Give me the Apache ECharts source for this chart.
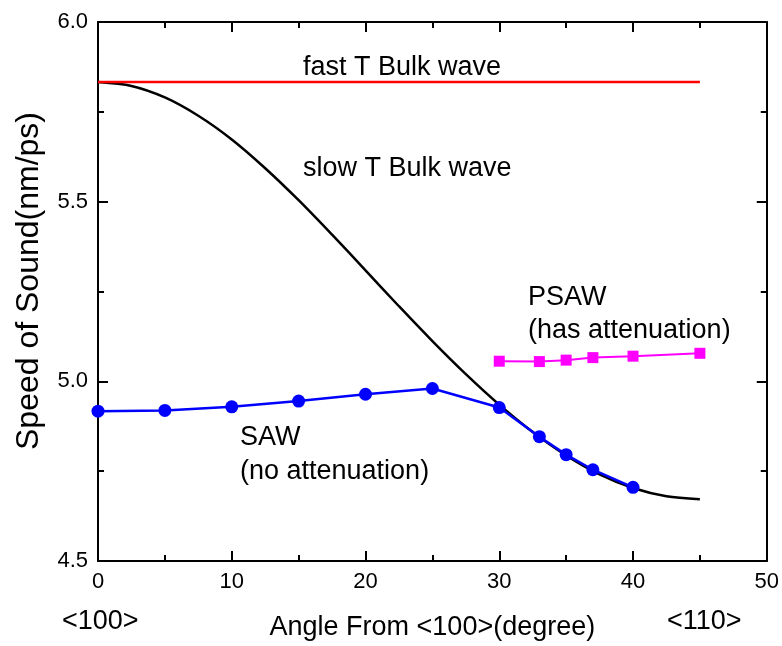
<!DOCTYPE html>
<html>
<head>
<meta charset="utf-8">
<script src="https://cdn.jsdelivr.net/npm/echarts@6/dist/echarts.min.js"></script>
<style>html,body{margin:0;padding:0;background:#fff;}#c{width:782px;height:646px;}</style>
</head>
<body>
<div id="c"></div>
<script>
// ---- data ----
const fastAngles = [0, 45];
const fastValues = [5.833, 5.833];

const slowAngles = [0, 2.5, 5, 7.5, 10, 12.5, 15, 17.5, 20, 22.5, 25, 27.5, 30, 32.5, 35, 37.5, 40, 42.5, 45];
const slowValues = [5.833, 5.822, 5.790, 5.739, 5.673, 5.593, 5.504, 5.408, 5.309, 5.209, 5.112, 5.020, 4.935, 4.859, 4.794, 4.741, 4.703, 4.680, 4.672];

const sawAngles = [0, 5, 10, 15, 20, 25, 30, 33, 35, 37, 40];
const sawValues = [4.917, 4.919, 4.929, 4.945, 4.964, 4.980, 4.927, 4.846, 4.796, 4.754, 4.705];

const psawAngles = [30, 33, 35, 37, 40, 45];
const psawValues = [5.056, 5.055, 5.059, 5.066, 5.070, 5.078];

const xTicks = [0, 10, 20, 30, 40, 50];
const yTicks = [4.5, 5.0, 5.5, 6.0];

const pair = (xs, ys) => xs.map((x, i) => [x, ys[i]]);

const FONT = 'Liberation Sans, Arial, sans-serif';
const chart = echarts.init(document.getElementById('c'));

function frame() {
  return {
    axisLine: { show: true, onZero: false, lineStyle: { color: '#000', width: 2 } },
    axisTick: { show: true, inside: true, length: 10, lineStyle: { color: '#000', width: 2 } },
    minorTick: { show: true, splitNumber: 2, length: 6, lineStyle: { color: '#000', width: 2 } },
    splitLine: { show: false },
    minorSplitLine: { show: false }
  };
}

const annot = [
  { text: 'fast T Bulk wave', x: 303, y: 54 },
  { text: 'slow T Bulk wave', x: 303, y: 155 },
  { text: 'PSAW', x: 528, y: 284 },
  { text: '(has attenuation)', x: 528, y: 317 },
  { text: 'SAW', x: 240, y: 424 },
  { text: '(no attenuation)', x: 240, y: 458 },
  { text: '<100>', x: 62, y: 608 },
  { text: '<110>', x: 667, y: 608 }
];

chart.setOption({
  animation: false,
  backgroundColor: '#fff',
  grid: { left: 98, right: 15, top: 22, bottom: 84, containLabel: false },
  xAxis: [
    Object.assign(frame(), {
      type: 'value', min: xTicks[0], max: xTicks[xTicks.length - 1], interval: 10,
      position: 'bottom', gridIndex: 0,
      axisLabel: { show: true, color: '#000', fontSize: 22, fontFamily: FONT, margin: 10 },
      name: 'Angle From <100>(degree)', nameLocation: 'middle', nameGap: 53,
      nameTextStyle: { color: '#000', fontSize: 27, fontFamily: FONT }
    }),
    Object.assign(frame(), {
      type: 'value', min: 0, max: 50, interval: 10, position: 'top', gridIndex: 0,
      axisLabel: { show: false }
    })
  ],
  yAxis: [
    Object.assign(frame(), {
      type: 'value', min: yTicks[0], max: yTicks[yTicks.length - 1], interval: 0.5,
      position: 'left', gridIndex: 0,
      axisLabel: { show: true, color: '#000', fontSize: 22, fontFamily: FONT, margin: 10, formatter: v => v.toFixed(1) }
    }),
    Object.assign(frame(), {
      type: 'value', min: 4.5, max: 6.0, interval: 0.5, position: 'right', gridIndex: 0,
      axisLabel: { show: false }
    })
  ],
  series: [
    {
      type: 'line', name: 'slow T', data: pair(slowAngles, slowValues), smooth: 0.3,
      showSymbol: false, symbol: 'none', lineStyle: { color: '#000', width: 2.5 }, z: 2
    },
    {
      type: 'line', name: 'fast T', data: pair(fastAngles, fastValues),
      symbol: 'none', lineStyle: { color: '#ff0000', width: 2.5 }, z: 3
    },
    {
      type: 'line', name: 'SAW', data: pair(sawAngles, sawValues),
      symbol: 'circle', symbolSize: 13, itemStyle: { color: '#0000ff' },
      lineStyle: { color: '#0000ff', width: 2.5 }, z: 4
    },
    {
      type: 'line', name: 'PSAW', data: pair(psawAngles, psawValues),
      symbol: 'rect', symbolSize: 11, itemStyle: { color: '#ff00ff' },
      lineStyle: { color: '#ff00ff', width: 2 }, z: 4
    }
  ],
  graphic: annot.map(a => ({
    type: 'text', left: a.x, top: a.y,
    style: { text: a.text, fill: '#000', font: '27px ' + FONT }
  })).concat([{
    type: 'text', x: 29, y: 281, rotation: Math.PI / 2,
    style: { text: 'Speed of Sound(nm/ps)', fill: '#000', font: '32px ' + FONT, align: 'center', verticalAlign: 'middle' }
  }])
});
</script>
</body>
</html>
